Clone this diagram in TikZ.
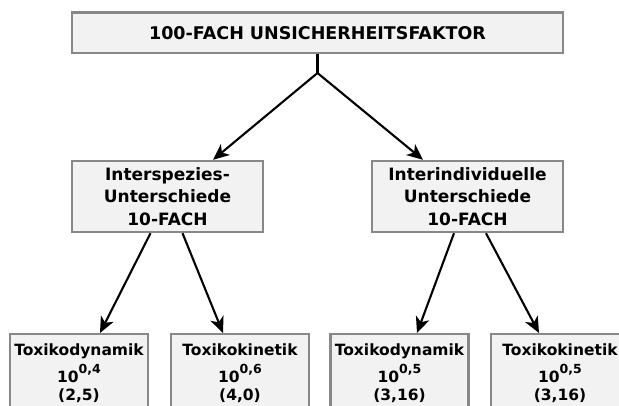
\documentclass[tikz,border=0pt]{standalone}
\usepackage{fontspec}
\setmainfont{DejaVu Sans}
\usetikzlibrary{arrows.meta,positioning}

\definecolor{boxgray}{HTML}{888888}
\definecolor{boxfill}{HTML}{F2F2F2}

\newcommand\tenpow[1]{10\raisebox{0.6em}{\fontsize{12.5}{12.5}\selectfont #1}}
\newcommand\tightlines{\lineskiplimit=-100pt\relax}

\tikzset{
  box/.style={draw=boxgray, fill=boxfill, line width=2.4pt, inner sep=0pt,
    align=center, font=\bfseries\fontsize{17}{22.7}\selectfont},
  leaf/.style={box, anchor=north, minimum width=138, inner ysep=10pt,
    font=\bfseries\fontsize{15.5}{18}\selectfont\tightlines},
  link/.style={line width=2.1pt},
  arr/.style={link, -{Stealth[length=16pt,width=14pt,inset=4.5pt]}},
}

\begin{document}
\begin{tikzpicture}[x=1pt,y=-1pt]
  \useasboundingbox (0,0) rectangle (619,405);
  \clip (0,0) rectangle (619,405);
  \draw
    (317.5,32.75) node[box, minimum width=491, minimum height=40.5,
      font=\bfseries\fontsize{17.5}{19}\selectfont] (top){100-FACH UNSICHERHEITSFAKTOR}
    (167.5,196.5) node[box, minimum width=191, minimum height=71] (inter){Interspezies-\\Unterschiede\\10-FACH}
    (467.5,196.5) node[box, minimum width=191, minimum height=71] (indiv){Interindividuelle\\Unterschiede\\10-FACH}
    (79,333) node[leaf] (tdA){Toxikodynamik\\[9pt]\tenpow{0,4}\\(2,5)\\[8pt]}
    (240,333) node[leaf] (tkA){Toxikokinetik\\[9pt]\tenpow{0,6}\\(4,0)\\[8pt]}
    (399.5,333) node[leaf] (tdB){Toxikodynamik\\[9pt]\tenpow{0,5}\\(3,16)\\[8pt]}
    (560,333) node[leaf] (tkB){Toxikokinetik\\[9pt]\tenpow{0,5}\\(3,16)\\[8pt]};
  \coordinate (fork) at (317.5,73);
  \begin{scope}[link]
    \draw (top) to (fork);
    \draw[arr] (fork) to ([xshift=45.5]inter.north);
    \draw[arr] (fork) to ([xshift=-44.5]indiv.north);
    \draw[arr] ([xshift=-17]inter.south) to ([xshift=21]tdA.north);
    \draw[arr] ([xshift=15]inter.south) to ([xshift=-17]tkA.north);
    \draw[arr] ([xshift=-13.5]indiv.south) to ([xshift=17.5]tdB.north);
    \draw[arr] ([xshift=18.5]indiv.south) to ([xshift=-21]tkB.north);
  \end{scope}
\end{tikzpicture}
\end{document}
